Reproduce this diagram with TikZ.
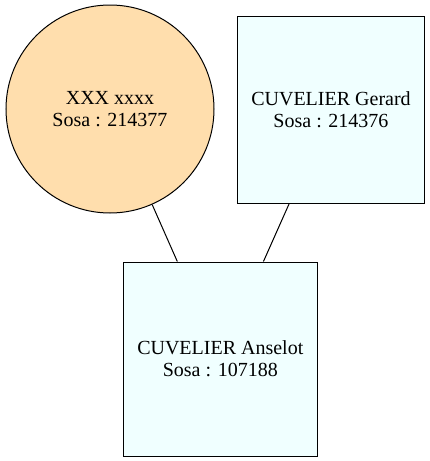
\documentclass[tikz,border=0pt]{standalone}
\usepackage{fontspec}
\setmainfont{Liberation Serif}
\definecolor{navajo}{RGB}{255,222,173}
\definecolor{azurebox}{RGB}{240,255,255}
\begin{document}
\begin{tikzpicture}[x=1pt,y=-1pt,
    person/.style={draw, line width=1pt, align=center, inner sep=0pt,
      font=\fontsize{20}{22}\selectfont},
    man/.style={person, rectangle, fill=azurebox},
    woman/.style={person, circle, fill=navajo}
]
\useasboundingbox (0,0) rectangle (430,461);

% parents
\node[woman, minimum size=208pt] (mother) at (110,109) {XXX xxxx\\Sosa : 214377};
\node[man, minimum size=187pt] (father) at (331,109.5) {CUVELIER Gerard\\Sosa : 214376};

% child
\node[man, minimum size=194pt] (child) at (220.3,359) {CUVELIER Anselot\\Sosa : 107188};

\draw[line width=1pt] (mother) -- (child);
\draw[line width=1pt] (father) -- (child);
\end{tikzpicture}
\end{document}
